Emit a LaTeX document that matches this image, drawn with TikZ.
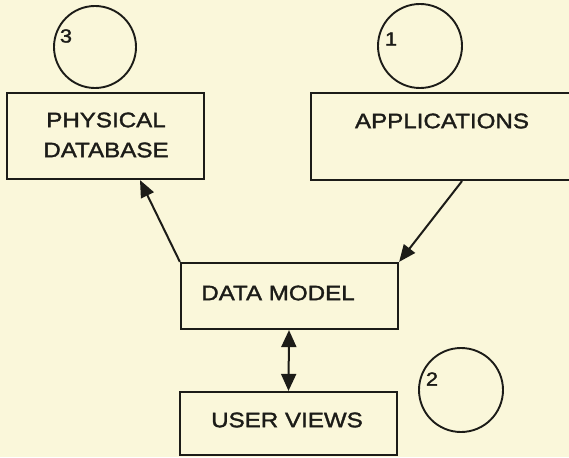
\documentclass[tikz,border=0pt]{standalone}
\usepackage{fontspec}
\setmainfont{Liberation Sans}[FakeStretch=1.15,FakeBold=1.6]
\usetikzlibrary{arrows.meta}
\definecolor{paper}{RGB}{250,247,218}
\definecolor{ink}{RGB}{28,28,24}
\tikzset{
  box/.style={draw=ink, line width=2.2pt, rectangle, inner sep=0pt},
  lbl/.style={text=ink, font=\fontsize{21}{30}\selectfont, inner sep=0pt, align=center},
  num/.style={text=ink, font=\fontsize{19}{22}\selectfont, inner sep=0pt},
  ring/.style={draw=ink, line width=1.9pt, circle, inner sep=0pt},
  tip/.style={Triangle[length=17pt,width=14pt]},
  link/.style={draw=ink, line width=2pt, -{Triangle[length=17pt,width=14pt]}},
  dlink/.style={draw=ink, line width=2pt, {Triangle[length=17pt,width=15pt]}-{Triangle[length=17pt,width=15pt]}}
}
\begin{document}
\begin{tikzpicture}[x=1pt,y=-1pt]
  \fill[paper] (0,0) rectangle (569,457);
  \useasboundingbox (0,0) rectangle (569,457);
  \clip (0,0) rectangle (569,457);

  % boxes
  \node[box, minimum width=197pt, minimum height=86pt] (phys) at (105.5,136) {};
  \node[lbl] (physt) at (106,135) {PHYSICAL\\DATABASE};
  \node[box, minimum width=264pt, minimum height=87pt] (apps) at (443,136.5) {};
  \node[lbl] (appst) at (442,121) {APPLICATIONS};
  \node[box, minimum width=217pt, minimum height=66pt] (dm) at (289.5,296) {};
  \node[lbl] (dmt) at (278,293) {DATA MODEL};
  \node[box, minimum width=217pt, minimum height=63pt] (uv) at (288.5,423.5) {};
  \node[lbl] (uvt) at (287,420) {USER VIEWS};

  % numbered circles
  \node[ring, minimum size=82pt] (c3) at (95,47) {};
  \node[num] (n3) at (66,36) {3};
  \node[ring, minimum size=84pt] (c1) at (420,46) {};
  \node[num] (n1) at (391,39) {1};
  \node[ring, minimum size=84pt] (c2) at (461,390) {};
  \node[num] (n2) at (432,379) {2};

  % connectors
  \draw[link] (dm.north west) -- ([xshift=34.5pt]phys.south);
  \draw[link] ([xshift=19pt]apps.south) -- (dm.north east);
  \draw[dlink] ([xshift=-0.5pt]dm.south) -- (uv.north);
\end{tikzpicture}
\end{document}
